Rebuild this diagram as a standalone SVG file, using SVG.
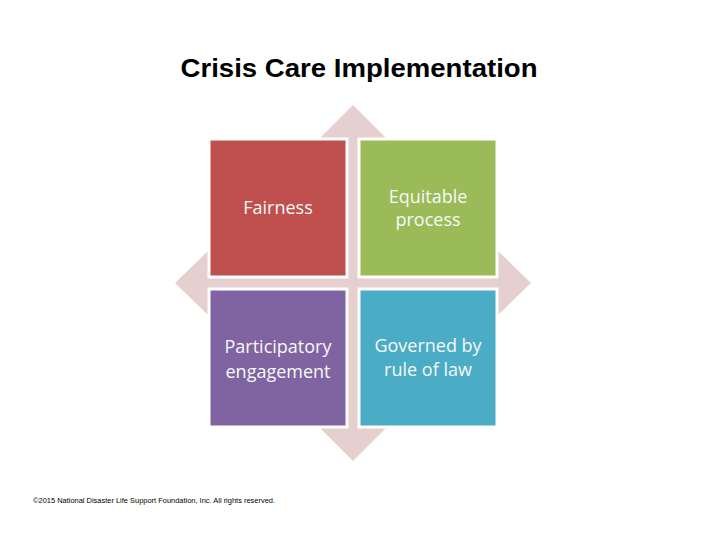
<svg xmlns="http://www.w3.org/2000/svg" width="720" height="540" viewBox="0 0 720 540">
<style>
.title{font-family:"Liberation Sans",Arial,sans-serif;font-weight:bold;font-size:25px;fill:#000}
.lbl{font-family:"Open Sans","Liberation Sans",sans-serif;font-size:18px;fill:#f8f8f8;text-anchor:middle}
.box{stroke:#ffffff;stroke-width:3}
.foot{font-family:"Liberation Sans",Arial,sans-serif;font-size:6.5px;fill:#000}
</style>
<rect width="720" height="540" fill="#ffffff"/>
<text class="title" x="359" y="77" text-anchor="middle" textLength="357" lengthAdjust="spacingAndGlyphs">Crisis Care Implementation</text>
<g id="connectors">
<path d="M353,105 L386,138 L363,138 L363,273 L497,273 L497,250 L531,283 L497,316 L497,293 L363,293 L363,428 L386,428 L353,461 L320,428 L343,428 L343,293 L209,293 L209,316 L175,283 L209,250 L209,273 L343,273 L343,138 L320,138 Z" fill="#e6cfcf"/>
</g>
<g id="fairness">
<rect class="box" x="209" y="139" width="138" height="138" fill="#c0504d"/>
<text class="lbl" x="278" y="214">Fairness</text>
</g>
<g id="equitable">
<rect class="box" x="359" y="139" width="138" height="138" fill="#9bbb59"/>
<text class="lbl" x="428" y="203">Equitable</text>
<text class="lbl" x="428" y="226">process</text>
</g>
<g id="participatory">
<rect class="box" x="209" y="289" width="138" height="138" fill="#8064a2"/>
<text class="lbl" x="278" y="353">Participatory</text>
<text class="lbl" x="278" y="378">engagement</text>
</g>
<g id="governed">
<rect class="box" x="359" y="289" width="138" height="138" fill="#4bacc6"/>
<text class="lbl" x="428" y="352">Governed by</text>
<text class="lbl" x="428" y="376">rule of law</text>
</g>
<text class="foot" x="33" y="503" textLength="242" lengthAdjust="spacingAndGlyphs">©2015 National Disaster Life Support Foundation, Inc. All rights reserved.</text>
</svg>
